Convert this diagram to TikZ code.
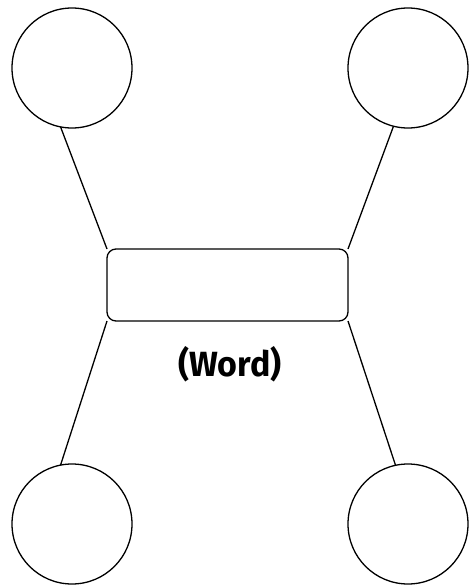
\documentclass[tikz,border=0pt]{standalone}
\usepackage{fontspec}
\setmainfont{Fira Sans}
\begin{document}
\begin{tikzpicture}[x=1pt,y=-1pt,
  bubble/.style={draw,circle,line width=1.3pt,minimum size=120pt,inner sep=0pt,outer sep=0pt},
  wordbox/.style={draw,rectangle,rounded corners=9pt,line width=1.3pt,minimum width=241pt,minimum height=72pt,inner sep=0pt,outer sep=0pt},
  link/.style={line width=1.3pt},
  label/.style={font=\fontsize{35}{40}\selectfont\bfseries}]
\useasboundingbox (0,0) rectangle (469,585);
\node[bubble] (tl) at (72,68) {};
\node[bubble] (tr) at (408,68) {};
\node[bubble] (bl) at (72,524) {};
\node[bubble] (br) at (408,524) {};
\node[wordbox] (box) at (227.5,285) {};
\node[label,xscale=0.97] (word) at (230,364) {(Word)};
\draw[link] (tl.259) -- (box.north west);
\draw[link] (tr.256) -- (box.north east);
\draw[link] (bl.101) -- (box.south west);
\draw[link] (br.102) -- (box.south east);
\end{tikzpicture}
\end{document}
